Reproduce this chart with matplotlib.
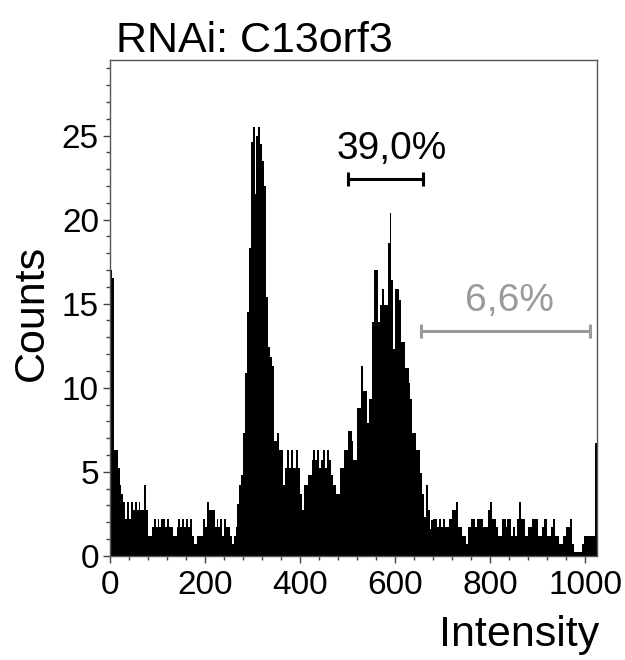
import numpy as np
import matplotlib
matplotlib.use("Agg")
import matplotlib.pyplot as plt
from matplotlib.ticker import MultipleLocator

plt.rcParams['font.family'] = ['Liberation Sans', 'DejaVu Sans']

# histogram: 256 channels of width 4 over 0..1024 intensity
bin_width = 4
counts = [
    17, 16.5, 6.3, 6.3, 5.2, 4.2, 3.7, 3.2, 2.2, 3.2, 2.2, 3.2, 2.7, 3.2, 2.7, 3.2,
    2.7, 2.7, 4.2, 2.7, 1.2, 1.2, 1.7, 2.2, 1.7, 2.2, 1.7, 2.2, 2.2, 1.7, 2.2, 1.7,
    1.7, 1.2, 1.2, 1.7, 2.2, 1.7, 2.2, 1.7, 2.2, 1.7, 2.2, 1.2, 0.7, 0.7, 1.2, 1.2,
    1.2, 2.2, 1.7, 3.2, 2.7, 2.7, 2.7, 1.7, 2.2, 1.7, 2.2, 1.2, 2.2, 1.7, 1.7, 1.2,
    0.7, 1.2, 1.7, 3.1, 4.2, 4.8, 7.3, 10.9, 14.5, 18.3, 24.6, 25.5, 21.5, 25, 25.5, 24.5,
    23.5, 22, 15.4, 12.4, 11.8, 11.3, 6.8, 6.8, 7.3, 6.3, 6.3, 4.2, 5.2, 6.3, 5.2, 6.3,
    5.2, 5.2, 6.3, 5.2, 3.7, 2.7, 4.2, 4.2, 4.8, 4.8, 5.7, 6.3, 5.7, 6.3, 5.2, 5.7,
    6.3, 5.2, 6.3, 5.7, 4.8, 4.2, 4.2, 3.7, 3.7, 5.2, 5.2, 6.3, 6.3, 7.4, 7.4, 6.8,
    5.7, 5.7, 8.8, 8.8, 11.3, 9.8, 9.8, 7.9, 9.3, 9.3, 13.9, 17, 17, 13.9, 14.9, 15.9,
    14.9, 14.9, 18.6, 20.4, 16.4, 12.3, 15.9, 15.9, 15.2, 12.7, 12.7, 11.2, 11.2, 10.3, 9.3, 7.3,
    7.3, 6.3, 6.3, 4.9, 3.7, 2.3, 4.2, 2.7, 1.6, 2.1, 2.2, 2.2, 1.7, 2.2, 1.7, 2.2,
    1.7, 1.7, 2.2, 2.2, 2.7, 2.7, 3.2, 1.7, 1.7, 1.2, 1.2, 0.7, 1.7, 1.7, 2.2, 2.2,
    1.7, 2.2, 2.2, 2.2, 1.7, 1.7, 1.7, 2.7, 3.2, 2.2, 2.2, 1.7, 1.2, 1.2, 2.2, 2.2,
    1.7, 2.2, 2.2, 1.2, 1.7, 1.2, 2.2, 3.2, 2.2, 2.2, 1.2, 1.2, 1.7, 1.7, 2.2, 2.2,
    2.2, 1.2, 1.2, 1.7, 2.2, 2.2, 1.2, 1.2, 1.7, 2.2, 1.2, 1.2, 0.7, 0.7, 1.2, 1.2,
    1.7, 1.7, 2.2, 0.7, 0.2, 0.2, 0.2, 0.2, 0.7, 1.2, 1.2, 1.2, 1.2, 1.2, 1.2, 6.7,
]

# gates: label, start, end, height, label centre, colour
gate_names = ['39,0%', '6,6%']
gate_start = [500, 655]
gate_end = [658, 1009]
gate_y = [22.4, 13.35]
gate_label_x = [593, 840]
gate_colors = ['black', '#9a9a9a']

edges = np.arange(len(counts) + 1) * bin_width

fig = plt.figure(figsize=(6.25, 6.6), dpi=100)
ax = fig.add_axes([0.176, 0.158, 0.779, 0.751])

ax.stairs(counts, edges, fill=True, color='black', linewidth=0)

for name, x0, x1, y, lx, c in zip(gate_names, gate_start, gate_end, gate_y,
                                  gate_label_x, gate_colors):
    ax.hlines(y, x0, x1, color=c, linewidth=2.2)
    ax.vlines([x0, x1], y - 0.42, y + 0.42, color=c, linewidth=2.2)
    ax.text(lx, y + 0.75, name, color=c, fontsize=28, ha='center', va='bottom')

ax.set_xlim(0, 1024)
ax.set_ylim(0, 29.5)
ax.xaxis.set_major_locator(MultipleLocator(200))
ax.xaxis.set_minor_locator(MultipleLocator(40))
ax.yaxis.set_major_locator(MultipleLocator(5))
ax.yaxis.set_minor_locator(MultipleLocator(1))

ax.tick_params(axis='both', which='major', labelsize=24, length=5, width=1,
               color='#444444', pad=3)
ax.tick_params(axis='x', which='major', pad=5)
ax.tick_params(axis='both', which='minor', length=3, width=1, color='#444444')

for s in ax.spines.values():
    s.set_linewidth(1)
    s.set_color('#555555')

ax.set_ylabel('Counts', fontsize=31)
ax.yaxis.set_label_coords(-0.12, 0.49)
ax.set_xlabel('Intensity', fontsize=31, ha='right')
ax.xaxis.set_label_coords(1.005, -0.12)

fig.text(116 / 625, 1 - 52 / 660, 'RNAi: C13orf3', fontsize=31,
         ha='left', va='baseline')

fig.savefig('out.png', dpi=100)
